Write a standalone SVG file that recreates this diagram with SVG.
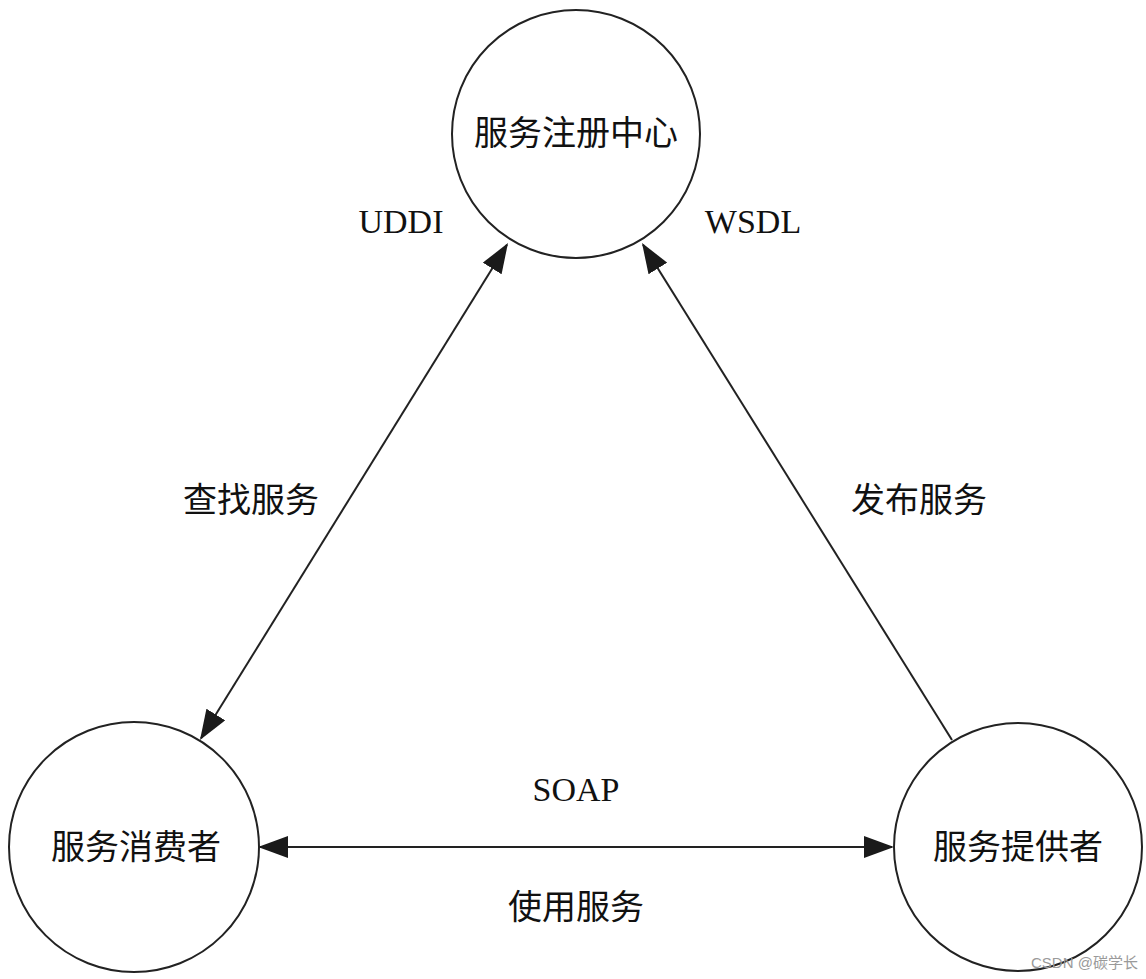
<svg xmlns="http://www.w3.org/2000/svg" width="1146" height="979" viewBox="0 0 1146 979">
<style>
.node circle{fill:#fff;stroke:#222;stroke-width:2}
.cn{font-family:"Liberation Serif","Noto Sans CJK SC",serif;font-size:34px;fill:#111;text-anchor:middle}
.lat{font-family:"Liberation Serif","Times New Roman",serif;font-size:34px;fill:#111;text-anchor:middle}
.conn line{stroke:#222;stroke-width:2;fill:none}
.wm{font-family:"Liberation Sans","Noto Sans CJK SC",sans-serif;font-size:15px;fill:#9a9a9a}
</style>
<defs>
<marker id="arr" viewBox="0 0 30 22" refX="28" refY="11" markerWidth="30" markerHeight="22" markerUnits="userSpaceOnUse" orient="auto-start-reverse">
<path d="M0,0 L30,11 L0,22 z" fill="#1a1a1a"/>
</marker>
</defs>
<rect width="1146" height="979" fill="#fff"/>
<g id="connectors" class="conn">
<line x1="201.05" y1="738.3" x2="506.95" y2="244.7" marker-start="url(#arr)" marker-end="url(#arr)"/>
<line x1="952" y1="740" x2="643.06" y2="244.7" marker-end="url(#arr)"/>
<line x1="260" y1="847" x2="892" y2="847" marker-start="url(#arr)" marker-end="url(#arr)"/>
</g>
<g id="registry" class="node">
<circle cx="576" cy="134" r="124"/>
<text class="cn" x="576" y="145">服务注册中心</text>
</g>
<g id="consumer" class="node">
<circle cx="134" cy="847" r="125"/>
<text class="cn" x="136" y="859">服务消费者</text>
</g>
<g id="provider" class="node">
<circle cx="1018" cy="847" r="124"/>
<text class="cn" x="1018" y="859">服务提供者</text>
</g>
<g id="labels">
<text class="lat" x="401" y="233">UDDI</text>
<text class="lat" x="753" y="233">WSDL</text>
<text class="cn" x="251" y="512">查找服务</text>
<text class="cn" x="919" y="512">发布服务</text>
<text class="lat" x="576" y="801">SOAP</text>
<text class="cn" x="576" y="919">使用服务</text>
</g>
<text class="wm" x="1031" y="968">CSDN @碳学长</text>
</svg>
